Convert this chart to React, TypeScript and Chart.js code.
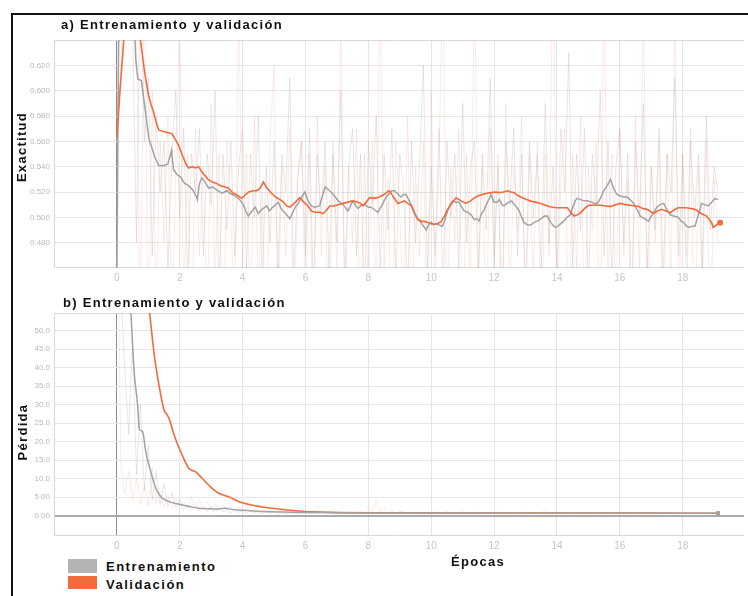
import React, { useEffect, useRef } from 'react';
import { Chart, registerables } from 'chart.js';

Chart.register(...registerables);

// ---------- DATA ----------
const X_TICKS = [0, 2, 4, 6, 8, 10, 12, 14, 16, 18];
const ACC_TICKS = [0.48, 0.5, 0.52, 0.54, 0.56, 0.58, 0.6, 0.62];
const LOSS_TICKS = [0, 5, 10, 15, 20, 25, 30, 35, 40, 45, 50];

const RAW_STEP = 0.125;

// smoothed accuracy [epoch, value]
const TRAIN_ACC: [number, number][] = [
  [0, 0.45], [0.06, 0.66], [0.3, 0.72], [0.55, 0.66], [0.6, 0.625], [0.67, 0.609], [0.78, 0.608], [0.9, 0.585],
  [1.02, 0.562], [1.1, 0.556], [1.2, 0.548], [1.33, 0.541], [1.5, 0.541], [1.62, 0.542], [1.7, 0.549], [1.74, 0.553],
  [1.8, 0.538], [1.9, 0.534], [2.02, 0.532], [2.15, 0.527], [2.28, 0.525], [2.4, 0.522], [2.5, 0.518], [2.56, 0.514],
  [2.62, 0.526], [2.7, 0.531], [2.8, 0.528], [2.92, 0.523], [3.05, 0.524], [3.2, 0.521], [3.35, 0.519], [3.5, 0.521],
  [3.6, 0.519], [3.75, 0.517], [3.87, 0.515], [4.0, 0.511], [4.1, 0.505], [4.18, 0.501], [4.3, 0.505], [4.4, 0.508],
  [4.5, 0.503], [4.6, 0.506], [4.77, 0.509], [4.85, 0.505], [4.92, 0.507], [5.05, 0.51], [5.13, 0.512], [5.22, 0.507],
  [5.29, 0.505], [5.4, 0.502], [5.5, 0.499], [5.6, 0.504], [5.7, 0.509], [5.77, 0.511], [5.88, 0.516], [5.98, 0.52],
  [6.08, 0.513], [6.19, 0.509], [6.3, 0.508], [6.45, 0.509], [6.55, 0.518], [6.63, 0.524], [6.72, 0.522], [6.85, 0.519],
  [6.95, 0.516], [7.04, 0.513], [7.2, 0.51], [7.35, 0.505], [7.51, 0.513], [7.6, 0.509], [7.67, 0.507], [7.8, 0.51],
  [7.9, 0.51], [8.0, 0.508], [8.09, 0.508], [8.2, 0.506], [8.3, 0.504], [8.42, 0.509], [8.52, 0.514], [8.6, 0.517],
  [8.67, 0.519], [8.75, 0.521], [8.83, 0.521], [8.95, 0.518], [9.04, 0.516], [9.12, 0.518], [9.2, 0.518], [9.28, 0.514],
  [9.36, 0.51], [9.45, 0.505], [9.52, 0.501], [9.6, 0.498], [9.67, 0.496], [9.76, 0.493], [9.84, 0.49], [9.92, 0.494],
  [10.0, 0.496], [10.08, 0.494], [10.15, 0.495], [10.25, 0.494], [10.36, 0.493], [10.45, 0.499], [10.52, 0.505], [10.6, 0.51],
  [10.68, 0.513], [10.78, 0.512], [10.89, 0.512], [10.97, 0.508], [11.05, 0.505], [11.16, 0.504], [11.27, 0.502], [11.37, 0.498],
  [11.45, 0.499], [11.52, 0.497], [11.6, 0.503], [11.69, 0.506], [11.77, 0.511], [11.85, 0.515], [11.9, 0.518], [12.0, 0.512],
  [12.1, 0.512], [12.17, 0.514], [12.25, 0.51], [12.32, 0.509], [12.4, 0.511], [12.48, 0.512], [12.56, 0.513], [12.64, 0.51],
  [12.72, 0.508], [12.8, 0.505], [12.88, 0.5], [12.95, 0.496], [13.06, 0.494], [13.17, 0.494], [13.27, 0.496], [13.38, 0.497],
  [13.5, 0.499], [13.6, 0.501], [13.69, 0.501], [13.8, 0.496], [13.9, 0.493], [13.96, 0.492], [14.08, 0.494], [14.22, 0.497],
  [14.32, 0.5], [14.43, 0.502], [14.5, 0.508], [14.58, 0.513], [14.64, 0.515], [14.75, 0.514], [14.86, 0.513], [14.96, 0.513],
  [15.1, 0.512], [15.2, 0.511], [15.28, 0.511], [15.38, 0.515], [15.49, 0.521], [15.6, 0.525], [15.7, 0.53], [15.8, 0.523],
  [15.91, 0.518], [16.0, 0.517], [16.12, 0.516], [16.22, 0.516], [16.33, 0.514], [16.44, 0.511], [16.55, 0.506], [16.65, 0.501],
  [16.78, 0.499], [16.91, 0.497], [17.05, 0.503], [17.18, 0.508], [17.28, 0.51], [17.39, 0.511], [17.5, 0.506], [17.6, 0.502],
  [17.72, 0.501], [17.86, 0.5], [17.95, 0.497], [18.02, 0.496], [18.1, 0.494], [18.18, 0.492], [18.3, 0.493], [18.39, 0.493],
  [18.5, 0.502], [18.6, 0.511], [18.7, 0.51], [18.81, 0.509], [18.92, 0.512], [19.03, 0.515], [19.12, 0.514],
];

const VAL_ACC: [number, number][] = [
  [0, 0.5635], [0.1, 0.6], [0.22, 0.64], [0.35, 0.67], [0.55, 0.67], [0.75, 0.64], [0.88, 0.615], [1.01, 0.596],
  [1.1, 0.588], [1.17, 0.583], [1.25, 0.575], [1.33, 0.569], [1.45, 0.568], [1.6, 0.567], [1.75, 0.566], [1.85, 0.562],
  [1.96, 0.557], [2.1, 0.548], [2.2, 0.542], [2.28, 0.539], [2.4, 0.54], [2.5, 0.539], [2.6, 0.54], [2.7, 0.536],
  [2.8, 0.533], [2.9, 0.53], [3.02, 0.528], [3.15, 0.527], [3.3, 0.525], [3.45, 0.524], [3.55, 0.523], [3.7, 0.519],
  [3.8, 0.518], [3.97, 0.515], [4.1, 0.518], [4.2, 0.52], [4.32, 0.521], [4.45, 0.521], [4.56, 0.523], [4.66, 0.528],
  [4.75, 0.524], [4.85, 0.521], [4.92, 0.519], [5.05, 0.516], [5.19, 0.514], [5.3, 0.512], [5.4, 0.509], [5.5, 0.508],
  [5.6, 0.51], [5.72, 0.513], [5.82, 0.5155], [5.95, 0.512], [6.08, 0.509], [6.19, 0.505], [6.3, 0.504], [6.45, 0.504],
  [6.56, 0.503], [6.65, 0.505], [6.77, 0.509], [6.9, 0.509], [7.04, 0.51], [7.2, 0.511], [7.35, 0.512], [7.5, 0.513],
  [7.67, 0.512], [7.75, 0.511], [7.83, 0.509], [7.93, 0.512], [8.04, 0.5155], [8.2, 0.515], [8.35, 0.516], [8.5, 0.518],
  [8.6, 0.52], [8.67, 0.521], [8.8, 0.516], [8.94, 0.511], [9.04, 0.512], [9.15, 0.513], [9.25, 0.511], [9.36, 0.5095],
  [9.45, 0.504], [9.57, 0.4984], [9.68, 0.497], [9.79, 0.4966], [9.9, 0.496], [10.0, 0.495], [10.1, 0.4945], [10.2, 0.495],
  [10.31, 0.4966], [10.42, 0.501], [10.52, 0.5063], [10.65, 0.511], [10.79, 0.5154], [10.95, 0.513], [11.1, 0.511], [11.25, 0.513],
  [11.37, 0.5154], [11.5, 0.517], [11.63, 0.518], [11.77, 0.519], [11.9, 0.5195], [12.05, 0.52], [12.16, 0.5195], [12.3, 0.52],
  [12.42, 0.521], [12.53, 0.52], [12.64, 0.5195], [12.77, 0.517], [12.9, 0.5154], [13.03, 0.514], [13.17, 0.5128], [13.32, 0.512],
  [13.48, 0.511], [13.6, 0.51], [13.74, 0.5085], [13.87, 0.508], [14.0, 0.5076], [14.17, 0.5076], [14.33, 0.5076], [14.44, 0.504],
  [14.54, 0.501], [14.65, 0.502], [14.75, 0.5036], [14.88, 0.507], [15.01, 0.5095], [15.2, 0.5095], [15.38, 0.5095], [15.55, 0.509],
  [15.7, 0.5085], [15.86, 0.51], [16.02, 0.511], [16.18, 0.51], [16.33, 0.5095], [16.47, 0.509], [16.6, 0.5085], [16.73, 0.507],
  [16.86, 0.5063], [16.96, 0.505], [17.07, 0.503], [17.2, 0.505], [17.33, 0.5063], [17.47, 0.505], [17.6, 0.5036], [17.73, 0.506],
  [17.86, 0.5076], [18.0, 0.5076], [18.13, 0.5076], [18.26, 0.507], [18.39, 0.5063], [18.48, 0.505], [18.55, 0.5036], [18.66, 0.502],
  [18.76, 0.501], [18.85, 0.498], [18.92, 0.4958], [18.97, 0.492], [19.08, 0.494], [19.19, 0.4958],
];

// raw (unsmoothed) accuracy, one value every RAW_STEP epochs
const TRAIN_ACC_RAW = [
  0.56, 0.7, 0.69, 0.72, 0.65, 0.48, 0.7, 0.56, 0.61, 0.47, 0.58, 0.52, 0.56, 0.46, 0.55, 0.6, 0.5, 0.57, 0.45, 0.55,
  0.52, 0.57, 0.47, 0.55, 0.51, 0.6, 0.44, 0.55, 0.49, 0.56, 0.47, 0.54, 0.57, 0.46, 0.55, 0.5, 0.58, 0.45, 0.54, 0.48,
  0.56, 0.46, 0.55, 0.52, 0.61, 0.45, 0.53, 0.56, 0.47, 0.57, 0.44, 0.55, 0.5, 0.56, 0.46, 0.55, 0.48, 0.6, 0.45, 0.54,
  0.57, 0.47, 0.55, 0.43, 0.56, 0.51, 0.58, 0.46, 0.55, 0.49, 0.57, 0.45, 0.55, 0.52, 0.44, 0.56, 0.48, 0.54, 0.62, 0.46,
  0.54, 0.47, 0.57, 0.44, 0.56, 0.5, 0.55, 0.46, 0.59, 0.48, 0.54, 0.56, 0.45, 0.55, 0.49, 0.61, 0.46, 0.54, 0.43, 0.56,
  0.51, 0.57, 0.47, 0.55, 0.44, 0.56, 0.5, 0.55, 0.46, 0.59, 0.48, 0.54, 0.45, 0.57, 0.52, 0.63, 0.46, 0.55, 0.49, 0.57,
  0.44, 0.55, 0.51, 0.6, 0.47, 0.56, 0.45, 0.54, 0.57, 0.48, 0.55, 0.43, 0.56, 0.5, 0.59, 0.46, 0.54, 0.49, 0.57, 0.45,
  0.55, 0.52, 0.61, 0.47, 0.55, 0.44, 0.56, 0.5, 0.55, 0.46, 0.58, 0.49, 0.54, 0.52,
];

const VAL_ACC_RAW = [
  0.56, 0.62, 0.7, 0.68, 0.71, 0.65, 0.4, 0.72, 0.38, 0.6, 0.42, 0.56, 0.48, 0.58, 0.4, 0.54, 0.66, 0.43, 0.55, 0.39,
  0.57, 0.47, 0.54, 0.41, 0.59, 0.45, 0.55, 0.38, 0.56, 0.5, 0.42, 0.68, 0.46, 0.55, 0.4, 0.58, 0.44, 0.52, 0.38, 0.56,
  0.62, 0.42, 0.54, 0.47, 0.57, 0.39, 0.53, 0.56, 0.43, 0.55, 0.4, 0.58, 0.47, 0.54, 0.38, 0.56, 0.45, 0.66, 0.41, 0.54,
  0.48, 0.57, 0.39, 0.55, 0.44, 0.56, 0.42, 0.69, 0.46, 0.53, 0.38, 0.56, 0.5, 0.43, 0.58, 0.4, 0.54, 0.47, 0.56, 0.38,
  0.6, 0.45, 0.55, 0.7, 0.41, 0.54, 0.48, 0.57, 0.39, 0.55, 0.44, 0.69, 0.46, 0.54, 0.4, 0.57, 0.47, 0.55, 0.38, 0.59,
  0.43, 0.54, 0.49, 0.58, 0.4, 0.55, 0.45, 0.56, 0.38, 0.55, 0.47, 0.72, 0.42, 0.53, 0.57, 0.39, 0.55, 0.46, 0.58, 0.41,
  0.54, 0.49, 0.56, 0.38, 0.69, 0.44, 0.55, 0.42, 0.57, 0.47, 0.53, 0.4, 0.58, 0.45, 0.68, 0.41, 0.54, 0.48, 0.56, 0.39,
  0.55, 0.44, 0.66, 0.42, 0.55, 0.47, 0.57, 0.38, 0.54, 0.45, 0.56, 0.4, 0.53, 0.48,
];

// smoothed loss [epoch, value]
const TRAIN_LOSS: [number, number][] = [
  [0.1, 120], [0.3, 75], [0.45, 54.2], [0.55, 38.9], [0.66, 29.9], [0.71, 23.6], [0.76, 23.0], [0.82, 22.7],
  [0.92, 17.3], [1.0, 14.3], [1.08, 11.9], [1.16, 9.4], [1.24, 7.4], [1.32, 6.1], [1.4, 5.1], [1.53, 4.3],
  [1.66, 3.8], [1.87, 3.3], [2.08, 2.9], [2.35, 2.4], [2.61, 2.0], [2.87, 1.9], [3.13, 1.8], [3.3, 1.9],
  [3.45, 2.0], [3.65, 1.7], [3.87, 1.5], [4.3, 1.3], [4.71, 1.1], [5.5, 0.95], [6.5, 0.85], [8, 0.75],
  [10, 0.7], [12, 0.68], [14, 0.66], [16, 0.65], [18, 0.64], [19.12, 0.65],
];

const VAL_LOSS: [number, number][] = [
  [0.5, 110], [0.8, 72], [1.05, 54.2], [1.19, 43.4], [1.34, 35.3], [1.5, 28.6], [1.58, 27.5], [1.66, 26.3],
  [1.82, 21.8], [2.03, 17.3], [2.29, 12.8], [2.4, 12.2], [2.5, 11.9], [2.71, 10.1], [3.03, 7.4], [3.24, 6.05],
  [3.56, 5.1], [3.87, 3.8], [4.27, 2.9], [4.93, 2.0], [5.77, 1.27], [6.82, 0.9], [8, 0.8], [9, 0.8],
  [10, 0.75], [12, 0.7], [14, 0.7], [16, 0.68], [18, 0.67], [19.12, 0.66],
];

const TRAIN_LOSS_RAW = [
  80, 62, 40, 22, 48, 11, 30, 7, 19, 4.2, 12, 3.1, 8.5, 2.4, 6.2, 2.1, 4.4, 1.6, 3.0, 1.4,
  2.6, 1.2, 2.2, 1.1, 2.4, 0.9, 1.8, 1.0, 1.6, 0.8, 1.5, 0.9, 1.3, 0.7, 1.2, 0.8, 1.1, 0.6, 1.0, 0.7,
  0.9, 0.6, 0.8, 0.5, 0.9, 0.6, 0.7, 0.5, 0.8, 0.6, 0.7, 0.5, 0.9, 0.5, 0.7, 0.6, 0.8, 0.5, 0.7, 0.6,
  0.8, 0.5, 0.6, 0.7, 0.5, 0.9, 0.6, 0.7, 0.5, 0.8, 0.6, 0.7, 1.4, 0.5, 0.7, 0.6, 0.8, 0.5, 0.6, 0.7,
  0.5, 0.8, 0.6, 0.7, 0.5, 0.6, 0.8, 0.5, 0.7, 0.6, 0.5, 0.8, 0.6, 0.7, 0.5, 0.6, 0.7, 0.5, 0.8, 0.6,
  0.5, 0.7, 0.6, 0.5, 0.8, 0.6, 0.7, 0.5, 0.6, 0.7, 0.5, 0.6, 0.8, 0.5, 0.7, 0.6, 0.5, 0.7, 0.6, 0.5,
  0.8, 0.6, 0.5, 0.7, 0.6, 0.5, 0.7, 0.6, 0.5, 0.8, 0.6, 0.5, 0.7, 0.6, 0.5, 0.6, 0.7, 0.5, 0.6, 0.7,
  0.5, 0.6, 0.8, 0.5, 0.6, 0.7, 0.5, 0.6, 0.7, 0.5, 0.6, 0.5, 0.7, 0.6,
];

const VAL_LOSS_RAW = [
  95, 14, 6, 12, 4.5, 10, 3.2, 8, 2.6, 13, 3.5, 6.5, 2.2, 5.2, 1.9, 4.6, 2.4, 3.8, 1.7, 5.0,
  2.2, 4.3, 1.6, 3.9, 2.0, 3.2, 1.5, 2.9, 1.8, 2.4, 1.3, 2.2, 1.4, 1.9, 1.2, 1.7, 1.1, 1.5, 1.0, 1.4,
  0.9, 1.3, 0.8, 1.2, 0.9, 1.1, 0.7, 1.2, 0.8, 1.0, 0.7, 1.1, 0.8, 0.9, 0.7, 1.0, 0.8, 0.9, 0.6, 1.0,
  0.7, 0.9, 1.2, 0.8, 1.8, 0.7, 4.2, 1.0, 2.1, 0.8, 1.3, 0.7, 0.9, 1.1, 0.6, 0.9, 0.8, 1.0, 0.7, 0.9,
  0.6, 1.0, 0.8, 0.7, 1.2, 0.6, 0.9, 0.8, 1.1, 0.7, 0.8, 0.6, 1.0, 0.7, 0.9, 0.6, 0.8, 1.0, 0.7, 0.6,
  0.9, 0.7, 0.8, 0.6, 1.0, 0.7, 0.8, 0.6, 0.9, 1.5, 0.7, 0.8, 0.6, 0.9, 0.7, 0.6, 0.8, 0.7, 0.9, 0.6,
  0.7, 0.8, 0.6, 0.9, 0.7, 0.6, 0.8, 0.7, 0.6, 0.9, 0.7, 0.8, 0.6, 0.7, 0.9, 0.6, 0.7, 0.8, 0.6, 0.7,
  0.9, 0.6, 0.7, 0.8, 0.6, 0.7, 0.9, 0.6, 0.7, 0.8, 0.6, 0.7, 0.6, 0.7,
];

// ---------- STYLE ----------
const FONT = '"Liberation Sans", Arial, sans-serif';
const ORANGE = '#f26b3a';
const GRAY = '#a2a2a2';
const ORANGE_RAW = 'rgba(248,150,120,0.2)';
const GRAY_RAW = 'rgba(170,170,170,0.28)';

const pairs = (arr: [number, number][]) => arr.map(([x, y]) => ({ x, y }));
const rawPts = (arr: number[]) => arr.map((y, i) => ({ x: i * RAW_STEP, y }));

const framePlugin = {
  id: 'frame',
  beforeDatasetsDraw(chart: any) {
    const { ctx, chartArea } = chart;
    const l = chartArea.left + 0.5;
    const t = chartArea.top + 0.5;
    const b = chartArea.bottom - 0.5;
    const r = chartArea.right;
    ctx.save();
    ctx.strokeStyle = '#d8d8d8';
    ctx.lineWidth = 1;
    ctx.beginPath();
    ctx.moveTo(r, t);
    ctx.lineTo(l, t);
    ctx.lineTo(l, b);
    ctx.lineTo(r, b);
    ctx.stroke();
    ctx.restore();
  },
};

function buildOptions(yMin: number, yMax: number, yTicks: number[], zeroH: boolean) {
  return {
    responsive: false,
    animation: false,
    devicePixelRatio: 1,
    layout: { padding: { top: 10, left: 0, right: 0, bottom: 0 } },
    plugins: { legend: { display: false }, tooltip: { enabled: false }, title: { display: false } },
    elements: { point: { radius: 0 }, line: { tension: 0 } },
    scales: {
      x: {
        type: 'linear',
        min: -2,
        max: 19.95,
        afterBuildTicks: (s: any) => { s.ticks = X_TICKS.map((v) => ({ value: v })); },
        afterFit: (s: any) => { s.height = 22; },
        grid: {
          color: (c: any) => (c.tick && c.tick.value === 0 ? '#8c8c8c' : '#e6e6e6'),
          lineWidth: 1,
          drawTicks: false,
        },
        border: { display: false },
        ticks: {
          padding: 4,
          color: '#c6c6c6',
          font: { size: 10, family: FONT },
          maxRotation: 0,
          autoSkip: false,
          callback: (v: any) => String(v),
        },
      },
      y: {
        type: 'linear',
        min: yMin,
        max: yMax,
        afterBuildTicks: (s: any) => { s.ticks = yTicks.map((v) => ({ value: v })); },
        afterFit: (s: any) => { s.width = 54; },
        grid: {
          color: (c: any) => (zeroH && c.tick && c.tick.value === 0 ? '#ababab' : '#e6e6e6'),
          lineWidth: (c: any) => (zeroH && c.tick && c.tick.value === 0 ? 2 : 1),
          drawTicks: false,
        },
        border: { display: false },
        ticks: {
          padding: 4,
          color: '#b9b9b9',
          font: { size: 8, family: FONT },
          autoSkip: false,
          callback: (v: any) => Number(v).toPrecision(3),
        },
      },
    },
  };
}

function lastOnly(n: number, r: number) {
  return (ctx: any) => (ctx.dataIndex === n - 1 ? r : 0);
}

const textStyle: React.CSSProperties = {
  position: 'absolute',
  fontFamily: FONT,
  fontWeight: 'bold',
  fontSize: 13,
  letterSpacing: 1.3,
  color: '#111',
  whiteSpace: 'nowrap',
  lineHeight: '16px',
};

export default function App() {
  const accRef = useRef<HTMLCanvasElement>(null);
  const lossRef = useRef<HTMLCanvasElement>(null);

  useEffect(() => {
    const accChart = new Chart(accRef.current as HTMLCanvasElement, {
      type: 'line',
      data: {
        datasets: [
          { data: pairs(VAL_ACC), borderColor: ORANGE, borderWidth: 1.6, pointRadius: lastOnly(VAL_ACC.length, 3), pointBackgroundColor: ORANGE, pointBorderWidth: 0 },
          { data: pairs(TRAIN_ACC), borderColor: GRAY, borderWidth: 1.5 },
          { data: rawPts(VAL_ACC_RAW), borderColor: ORANGE_RAW, borderWidth: 1 },
          { data: rawPts(TRAIN_ACC_RAW), borderColor: GRAY_RAW, borderWidth: 1 },
        ],
      } as any,
      options: buildOptions(0.46, 0.64, ACC_TICKS, false) as any,
      plugins: [framePlugin],
    });
    const lossChart = new Chart(lossRef.current as HTMLCanvasElement, {
      type: 'line',
      data: {
        datasets: [
          { data: pairs(TRAIN_LOSS), borderColor: GRAY, borderWidth: 1.5, cubicInterpolationMode: 'monotone', pointRadius: lastOnly(TRAIN_LOSS.length, 3), pointStyle: 'rect', pointBackgroundColor: GRAY, pointBorderWidth: 0 },
          { data: pairs(VAL_LOSS), borderColor: ORANGE, borderWidth: 1.6, cubicInterpolationMode: 'monotone' },
          { data: rawPts(VAL_LOSS_RAW), borderColor: ORANGE_RAW, borderWidth: 1 },
          { data: rawPts(TRAIN_LOSS_RAW), borderColor: GRAY_RAW, borderWidth: 1 },
        ],
      } as any,
      options: buildOptions(-5.5, 54.8, LOSS_TICKS, true) as any,
      plugins: [framePlugin],
    });
    return () => {
      accChart.destroy();
      lossChart.destroy();
    };
  }, []);

  return (
    <div style={{ position: 'absolute', left: 0, top: 0, width: 748, height: 596, overflow: 'hidden', background: '#fff', fontFamily: FONT }}>
      <div style={{ position: 'absolute', left: 11, top: 13, width: 760, height: 620, borderLeft: '2px solid #111', borderTop: '2px solid #111' }} />
      <canvas ref={accRef} width={748} height={260} style={{ position: 'absolute', left: 0, top: 30, width: 748, height: 260 }} />
      <canvas ref={lossRef} width={748} height={255} style={{ position: 'absolute', left: 0, top: 303, width: 748, height: 255 }} />

      <div style={{ ...textStyle, left: 61, top: 17 }}>a) Entrenamiento y validación</div>
      <div style={{ ...textStyle, left: 63, top: 295 }}>b) Entrenamiento y validación</div>

      <div style={{ ...textStyle, left: 21.5, top: 147, transform: 'translate(-50%, -50%) rotate(-90deg)' }}>Exactitud</div>
      <div style={{ ...textStyle, left: 23, top: 432, transform: 'translate(-50%, -50%) rotate(-90deg)' }}>Pérdida</div>

      <div style={{ ...textStyle, left: 451, top: 554 }}>Épocas</div>

      <div style={{ position: 'absolute', left: 68, top: 559, width: 29, height: 14, background: '#b4b4b4' }} />
      <div style={{ position: 'absolute', left: 68, top: 576, width: 29, height: 13, background: ORANGE }} />
      <div style={{ ...textStyle, left: 106, top: 559, letterSpacing: 1.5 }}>Entrenamiento</div>
      <div style={{ ...textStyle, left: 106, top: 577, letterSpacing: 1.5 }}>Validación</div>
    </div>
  );
}
